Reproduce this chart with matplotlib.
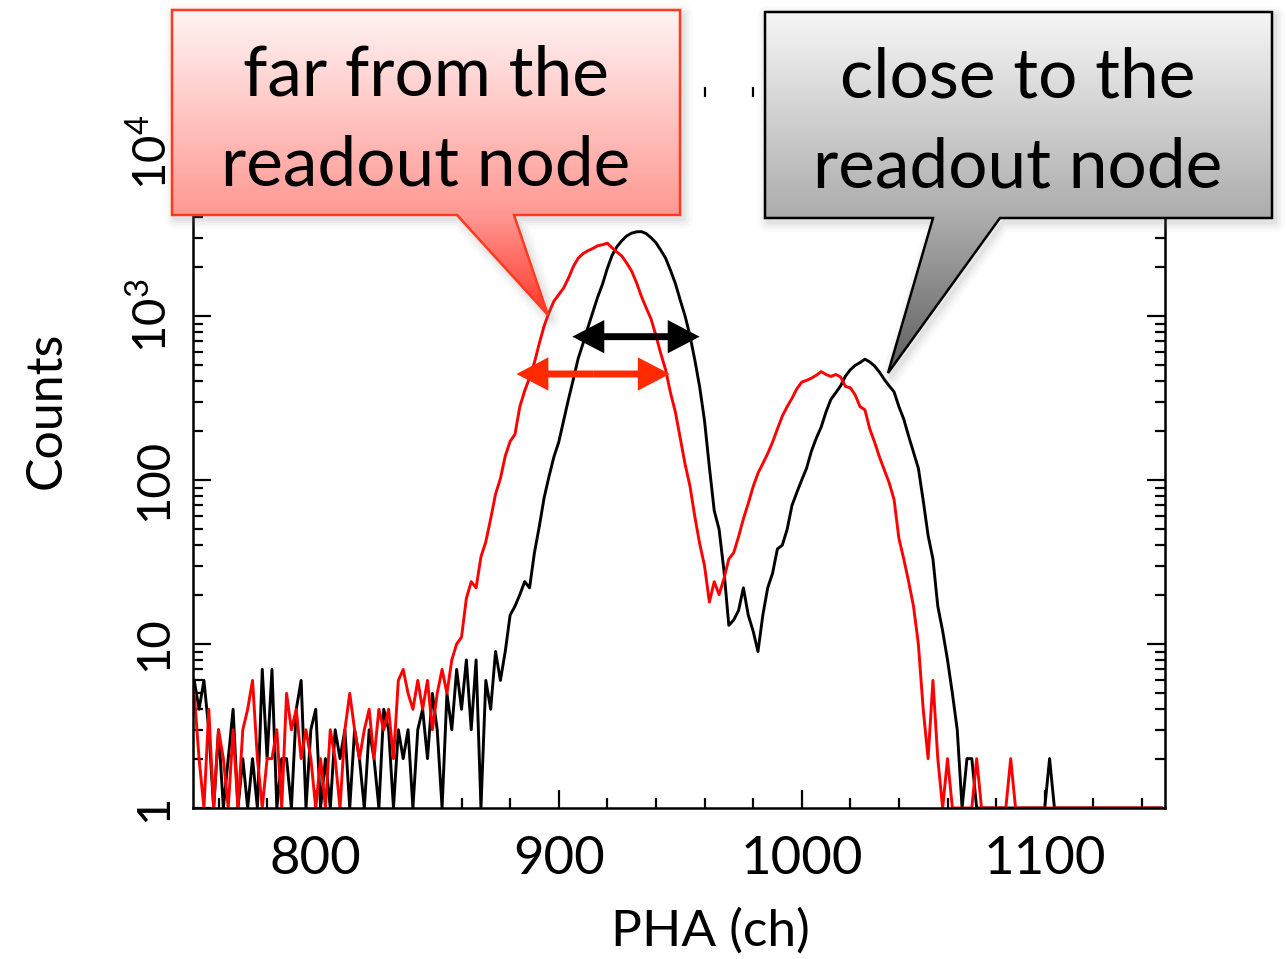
import matplotlib
matplotlib.use("Agg")
import matplotlib.pyplot as plt
import numpy as np
from matplotlib.patches import Polygon
from matplotlib.transforms import ScaledTranslation
from matplotlib.ticker import MultipleLocator, FixedLocator, LogLocator, NullFormatter

plt.rcParams['font.family'] = ['Lato', 'DejaVu Sans']
plt.rcParams['mathtext.fontset'] = 'custom'
plt.rcParams['mathtext.rm'] = 'Lato'

# PHA channels (every 2 ch)
channels = np.arange(750, 1150, 2)

# close to the readout node (black)
counts_close = [
    6, 4, 6, 3, 1, 3, 1, 2, 4, 1,          # 750-768
    2, 1, 2, 1, 7, 2, 7, 1, 2, 2,          # 770-788
    1, 4, 6, 1, 3, 4, 1, 2, 1, 3,          # 790-808
    2, 3, 1, 3, 2, 1, 3, 2, 1, 4,          # 810-828
    3, 1, 3, 2, 3, 1, 3, 4, 2, 5,          # 830-848
    3, 1, 5, 3, 7, 4, 8, 3, 8, 1,          # 850-868
    6, 4, 9, 6, 9, 15, 17, 20, 24, 22,     # 870-888
    36, 52, 78, 105, 138, 170, 230, 310, 410, 550,       # 890-908
    680, 850, 1050, 1300, 1560, 1950, 2350, 2650, 2880, 3080,  # 910-928
    3200, 3260, 3270, 3180, 3000, 2800, 2520, 2250, 1900, 1580,  # 930-948
    1250, 1000, 760, 540, 370, 230, 120, 65, 50, 28,     # 950-968
    13, 14, 16, 22, 15, 12, 9, 15, 22, 27,               # 970-988
    38, 40, 50, 70, 84, 100, 118, 150, 180, 210,         # 990-1008
    260, 310, 340, 375, 430, 470, 500, 520, 545, 525,    # 1010-1028
    495, 455, 410, 375, 345, 280, 235, 185, 148, 118,    # 1030-1048
    75, 46, 33, 17, 12, 8, 5, 3, 1, 2,                   # 1050-1068
    2, 1, 1, 1, 1, 1, 1, 1, 1, 1,                        # 1070-1088
    1, 1, 1, 1, 1, 1, 2, 1, 1, 1,                        # 1090-1108
    1, 1, 1, 1, 1, 1, 1, 1, 1, 1,                        # 1110-1128
    1, 1, 1, 1, 1, 1, 1, 1, 1, 1,                        # 1130-1148
]

# far from the readout node (red)
counts_far = [
    5, 2, 1, 4, 1, 3, 2, 1, 3, 1,          # 750-768
    3, 4, 6, 2, 1, 2, 2, 3, 1, 5,          # 770-788
    3, 4, 2, 3, 2, 1, 2, 1, 3, 2,          # 790-808
    1, 3, 5, 3, 2, 3, 4, 2, 4, 3,          # 810-828
    4, 2, 6, 7, 5, 4, 6, 4, 6, 3,          # 830-848
    5, 7, 5, 8, 10, 11, 19, 24, 22, 34,    # 850-868
    42, 58, 82, 102, 140, 172, 190, 280, 350, 420,       # 870-888
    520, 680, 870, 1050, 1230, 1350, 1480, 1700, 2000, 2250,  # 890-908
    2400, 2500, 2580, 2680, 2720, 2780, 2600, 2450, 2320, 2100,  # 910-928
    1880, 1600, 1320, 1120, 960, 760, 590, 470, 340, 260,  # 930-948
    180, 125, 92, 60, 41, 30, 18, 24, 20, 25,            # 950-968
    33, 36, 45, 58, 72, 91, 110, 126, 145, 170,          # 970-988
    205, 245, 280, 315, 360, 395, 405, 418, 435, 458,    # 990-1008
    440, 428, 440, 425, 372, 365, 330, 280, 268, 205,    # 1010-1028
    170, 138, 115, 96, 76, 44, 33, 24, 17, 10,           # 1030-1048
    4, 2, 6, 2, 1, 2, 1, 1, 1, 1,                        # 1050-1068
    1, 2, 1, 1, 1, 1, 1, 1, 2, 1,                        # 1070-1088
    1, 1, 1, 1, 1, 1, 1, 1, 1, 1,                        # 1090-1108
    1, 1, 1, 1, 1, 1, 1, 1, 1, 1,                        # 1110-1128
    1, 1, 1, 1, 1, 1, 1, 1, 1, 1,                        # 1130-1148
]

# widths marked by the double arrows: (left ch, right ch, counts)
width_close = (905.6, 958.0, 748)
width_far = (882.6, 945.7, 443)

xticks = [800, 900, 1000, 1100]
yticks = [1, 10, 100, 1000, 10000]
ytick_labels = ['1', '10', '100', r'$10^3$', r'$10^4$']

W, H = 1286, 959
fig = plt.figure(figsize=(W / 100, H / 100), dpi=100)
ax = fig.add_axes([193 / W, 1 - 808 / H, (1165 - 193) / W, (808 - 87) / H])

ax.plot(channels, counts_close, color='black', lw=2.1)
ax.plot(channels, counts_far, color='#ff0000', lw=2.1)

ax.set_yscale('log')
ax.set_xlim(749.5, 1149.5)
ax.set_ylim(1, 10 ** ((808 - 87) / 164))

ax.xaxis.set_major_locator(FixedLocator(xticks))
ax.xaxis.set_minor_locator(MultipleLocator(20))
ax.set_xticklabels([str(t) for t in xticks])
ax.yaxis.set_major_locator(FixedLocator(yticks))
ax.yaxis.set_minor_locator(LogLocator(base=10, subs=np.arange(2, 10)))
ax.yaxis.set_minor_formatter(NullFormatter())
ax.set_yticklabels(ytick_labels)

for lab in ax.get_yticklabels():
    lab.set_rotation(90)
    lab.set_va('center')

# the big x labels sit a little off their ticks, as on the slide
for lab, (dx, dy) in zip(ax.get_xticklabels(), [(6, 0), (3, 0), (3, 4), (5, -3)]):
    lab.set_transform(lab.get_transform() + ScaledTranslation(dx / 100, -dy / 100, fig.dpi_scale_trans))

ax.tick_params(axis='both', which='both', direction='in', top=True, right=True,
               width=1.6, colors='black')
ax.tick_params(which='major', length=13)
ax.tick_params(which='minor', length=7)
ax.tick_params(axis='x', labelsize=38, pad=20)
ax.tick_params(axis='y', labelsize=34, pad=13)
for s in ax.spines.values():
    s.set_linewidth(1.8)
ax.spines['top'].set_visible(False)

# double arrows for the peak widths
for (x0, x1, yv), col in [(width_close, 'black'), (width_far, '#ff2a00')]:
    xm = 0.5 * (x0 + x1)
    for xe in (x0, x1):
        ax.annotate('', xy=(xe, yv), xytext=(xm, yv),
                    arrowprops=dict(arrowstyle='simple,head_length=2.3,head_width=2.4,tail_width=0.5',
                                    mutation_scale=10, color=col, lw=0,
                                    shrinkA=0, shrinkB=0))

fig.text(47 / W, 1 - 410 / H, 'Counts', rotation=90, ha='center', va='center', fontsize=36)
fig.text(710 / W, 1 - 946 / H, 'PHA (ch)', ha='center', va='baseline', fontsize=37)

# callouts drawn in pixel space on top
ov = fig.add_axes([0, 0, 1, 1])
ov.set_xlim(0, W)
ov.set_ylim(H, 0)
ov.set_axis_off()
ov.set_zorder(5)


def callout(pts, top, mid, tip, c_top, c_mid, c_tip, edge):
    ys = np.linspace(top, tip, 300)
    c_top, c_mid, c_tip = [np.array(c) / 255 for c in (c_top, c_mid, c_tip)]
    grad = np.empty((300, 1, 3))
    for i, y in enumerate(ys):
        if y <= mid:
            f = (y - top) / (mid - top)
            grad[i, 0] = c_top + f * (c_mid - c_top)
        else:
            f = (y - mid) / (tip - mid)
            grad[i, 0] = c_mid + f * (c_tip - c_mid)
    xs = [p[0] for p in pts]
    for w, a in [(14, 0.04), (10, 0.05), (6, 0.06), (3, 0.08)]:
        ov.add_patch(Polygon([(x + 3, y + 4) for x, y in pts], closed=True, fill=False,
                             edgecolor='gray', lw=w, alpha=a, joinstyle='round'))
    shape = Polygon(pts, closed=True, facecolor='none', edgecolor='none')
    ov.add_patch(shape)
    im = ov.imshow(grad, extent=(min(xs), max(xs), tip, top), aspect='auto',
                   interpolation='bilinear', zorder=2)
    im.set_clip_path(shape)
    ov.add_patch(Polygon(pts, closed=True, fill=False, edgecolor=edge, lw=1.8,
                         joinstyle='miter', zorder=3))


callout([(172, 10), (680, 10), (680, 215), (514, 215), (548, 315), (457, 215), (172, 215)],
        10, 215, 315, (255, 244, 244), (255, 152, 147), (255, 55, 40), '#ff3a1f')
callout([(765, 12), (1272, 12), (1272, 218), (1000, 218), (888, 373), (933, 218), (765, 218)],
        12, 218, 373, (246, 246, 246), (172, 172, 172), (95, 95, 95), 'black')

ov.text(426, 95, 'far from the', ha='center', va='baseline', fontsize=50, zorder=4)
ov.text(426, 185, 'readout node', ha='center', va='baseline', fontsize=50, zorder=4)
ov.text(1018, 97, 'close to the', ha='center', va='baseline', fontsize=50, zorder=4)
ov.text(1018, 188, 'readout node', ha='center', va='baseline', fontsize=50, zorder=4)

fig.savefig('out.png', dpi=100)
